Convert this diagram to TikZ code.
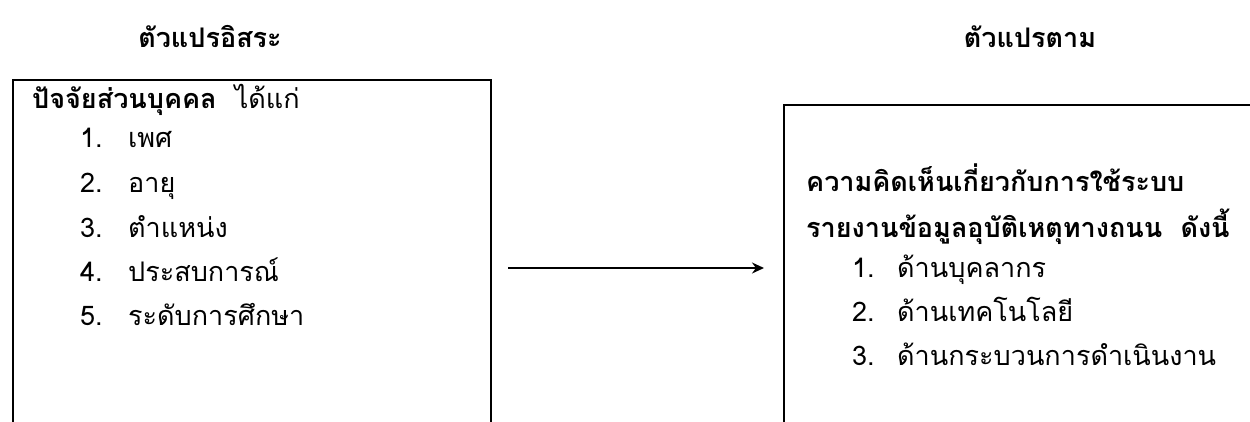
\documentclass[tikz,border=0pt]{standalone}
\usepackage{fontspec}
\setmainfont[Script=Thai]{Loma}
\usetikzlibrary{arrows.meta}
\tikzset{
  box/.style={draw=black, line width=1.6pt, rectangle, anchor=north west, inner sep=0pt},
  head/.style={anchor=base, font=\fontsize{27}{32}\selectfont\bfseries},
  txt/.style={anchor=base west, inner sep=0pt, font=\fontsize{27}{32}\selectfont},
  btxt/.style={txt, font=\fontsize{27}{32}\selectfont\bfseries},
  conn/.style={line width=1.6pt, -{Stealth[length=12pt,width=11pt]}}
}
\begin{document}
\begin{tikzpicture}[x=1pt,y=-1pt]
\useasboundingbox (0,0) rectangle (1250,421);
\clip (0,0) rectangle (1250,421);
\node[head] (h1) at (210,47) {ตัวแปรอิสระ};
\node[head] (h2) at (1030,47) {ตัวแปรตาม};
\node[box, minimum width=478pt, minimum height=400pt] (lbox) at (12,79) {};
\node[box, minimum width=520pt, minimum height=400pt] (rbox) at (783,104) {};
% left box text
\node[txt] (lt) at (32,108) {\textbf{ปัจจัยส่วนบุคคล}\ \ ได้แก่};
\node[txt] (ln1) at (80,147) {1.};
\node[txt] (l1) at (128,147) {เพศ};
\node[txt] (ln2) at (80,192) {2.};
\node[txt] (l2) at (128,192) {อายุ};
\node[txt] (ln3) at (80,237) {3.};
\node[txt] (l3) at (128,237) {ตำแหน่ง};
\node[txt] (ln4) at (80,281) {4.};
\node[txt] (l4) at (128,281) {ประสบการณ์};
\node[txt] (ln5) at (80,325) {5.};
\node[txt] (l5) at (128,325) {ระดับการศึกษา};
% right box text
\node[btxt] (rt1) at (806,191) {ความคิดเห็นเกี่ยวกับการใช้ระบบ};
\node[btxt] (rt2) at (806,237) {รายงานข้อมูลอุบัติเหตุทางถนน\ \ ดังนี้};
\node[txt] (rn1) at (852,277) {1.};
\node[txt] (r1) at (897,277) {ด้านบุคลากร};
\node[txt] (rn2) at (852,321) {2.};
\node[txt] (r2) at (897,321) {ด้านเทคโนโลยี};
\node[txt] (rn3) at (852,365) {3.};
\node[txt] (r3) at (897,365) {ด้านกระบวนการดำเนินงาน};
% connector
\coordinate (a) at (508,268);
\coordinate (b) at (764,268);
\draw[conn] (a) -- (b);
\end{tikzpicture}
\end{document}
